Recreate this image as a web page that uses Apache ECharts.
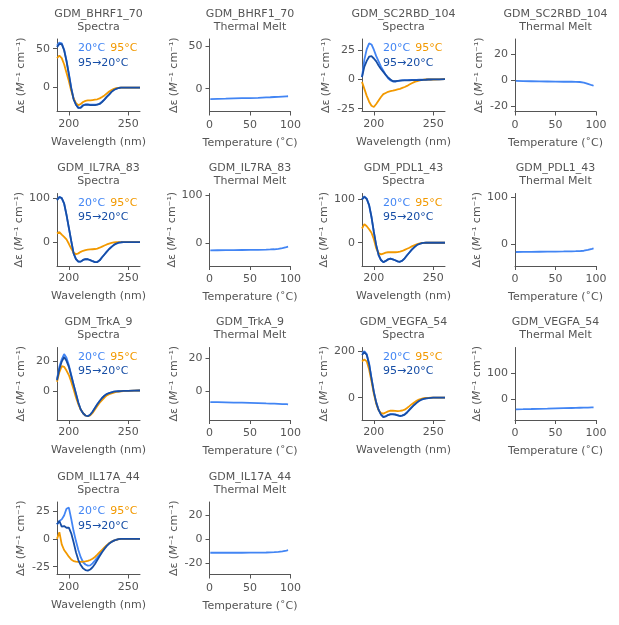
<!DOCTYPE html>
<html><head><meta charset="utf-8">
<script src="https://cdn.jsdelivr.net/npm/echarts@6/dist/echarts.min.js"></script>
<style>html,body{margin:0;padding:0;background:#fff}#c{width:619px;height:625px}</style>
</head><body><div id="c"></div>
<script>
// ---------- data ----------
const wavelengths = [190,192,194,196,198,200,202,204,206,208,210,212,214,216,218,220,222,224,226,228,230,232,234,236,238,240,242,244,246,248,250,255,260];
const temperatures = [1,10,20,30,40,50,60,70,75,80,85,90,95,97];
const proteinNames = ['GDM_BHRF1_70','GDM_SC2RBD_104','GDM_IL7RA_83','GDM_PDL1_43','GDM_TrkA_9','GDM_VEGFA_54','GDM_IL17A_44'];

const BHRF1_20C   = [54,58,57,49,35,18,0,-14,-22,-26,-25.5,-22.5,-21.5,-21.5,-22,-22,-22,-21.5,-20.5,-18,-15,-11.5,-8.5,-5,-2.8,-1.3,-0.4,0,0,0,0,0,0];
const BHRF1_95C   = [38,41,38,30,19,8.5,-4,-14,-20,-22.5,-21,-18.5,-17,-16.5,-16.5,-16,-15.5,-15,-13.8,-12,-10,-7.5,-5,-3,-1.5,-0.6,-0.2,0,0,0,0,0,0];
const BHRF1_95to20C = [52,56,56,48,34,17,-1,-15,-22,-26,-26,-23,-22,-22,-22.5,-22.5,-22.5,-22,-21,-18.5,-15.5,-12,-9,-5.5,-3,-1.5,-0.5,0,0,0,0,0,0];
const BHRF1_melt  = [-12.2,-12,-11.8,-11.5,-11.2,-11,-10.7,-10.3,-10.1,-9.8,-9.6,-9.3,-9.0,-8.9];

const SC2RBD_20C  = [2,17,26,31,30,25.5,20,15.5,11,7.5,4,1,-0.8,-1.5,-1.7,-1.4,-1,-0.8,-0.6,-0.5,-0.4,-0.4,-0.3,-0.3,-0.2,-0.2,-0.1,0,0,0,0.1,0.2,0.3];
const SC2RBD_95C  = [-2,-8,-14,-19,-22.5,-23.5,-21,-18,-15,-12.5,-11.5,-10.5,-10,-9.6,-9,-8.5,-8,-7.2,-6.4,-5.5,-4.3,-3.2,-2.3,-1.5,-0.9,-0.5,-0.2,0,0,0,0,0.2,0.3];
const SC2RBD_95to20C = [2,11,16,19.5,20,18,15.5,12,9,6.5,4,1.7,0,-1.5,-1.5,-1.2,-1,-0.8,-0.8,-0.7,-0.7,-0.6,-0.6,-0.5,-0.5,-0.4,-0.3,-0.2,0,0,0.1,0.2,0.3];
const SC2RBD_melt = [-0.5,-0.7,-0.8,-0.9,-1,-1.1,-1.2,-1.2,-1.3,-1.4,-1.8,-2.8,-3.9,-4.3];

const IL7RA_20C   = [97,104,101,88,62,32,2,-26,-39,-45,-45,-41,-39,-39.5,-41.5,-44,-46,-46,-42,-35,-28.5,-22,-16,-11,-6.5,-3.5,-1.5,-0.5,0,0,0,0,0];
const IL7RA_95C   = [20,23,17,12,6,-4,-15,-24,-28,-26,-22.5,-20,-18.5,-17.5,-17,-16.5,-16,-15,-13,-10.5,-8,-5.5,-3.5,-2,-0.8,-0.2,0,0,0,0,0,0,0];
const IL7RA_95to20C = [96,103,101,89,63,33,3,-26,-39,-45,-45,-41,-39,-39.5,-41.5,-44,-46,-46,-42,-35,-28.5,-22,-16,-11,-6.5,-3.5,-1.5,-0.5,0,0,0,0,0];
const IL7RA_melt  = [-14.5,-14.3,-14.1,-14,-13.8,-13.6,-13.4,-13,-12.7,-12.3,-11.5,-10,-8,-7];

const PDL1_20C    = [101,107,102,87,59,24,-7,-29,-40,-45,-42,-38.5,-37,-38.5,-40.5,-43,-44,-41.5,-36,-29,-22.5,-16,-10.5,-6,-3,-1.2,-0.5,0,0,0,0,0,0];
const PDL1_95C    = [33,43,38,31,23,8,-13,-24,-27,-25,-23,-22,-22,-22,-22,-21.5,-20.5,-19,-16.5,-14,-11.5,-8.5,-6,-3.8,-2,-0.8,-0.2,0,0,0,0,0,0];
const PDL1_95to20C = [100,106,101,87,60,25,-6,-28,-40,-45,-42,-38.5,-37,-38.5,-40.5,-43,-44,-41.5,-36,-29,-22.5,-16,-10.5,-6,-3,-1.2,-0.5,0,0,0,0,0,0];
const PDL1_melt   = [-16,-15.9,-15.7,-15.5,-15.3,-15.1,-14.9,-14.6,-14.4,-14.1,-13.4,-11.8,-9.5,-8.5];

const TrkA_20C    = [8,16,21,24.5,22,17,10.5,4,-2,-8,-12.5,-15,-16.5,-17,-16,-14,-11.5,-9,-6.8,-4.8,-3.3,-2.2,-1.5,-1,-0.6,-0.4,-0.3,-0.2,-0.1,0,0,0.1,0.2];
const TrkA_95C    = [6,12.5,16.5,16,13.5,10.5,6,1,-4.5,-9,-12.5,-15,-16.5,-17,-16.5,-14.8,-12.5,-10.2,-8,-6.2,-4.5,-3.1,-2.3,-1.7,-1.2,-0.8,-0.5,-0.3,-0.2,0,0,0.1,0.2];
const TrkA_95to20C = [7,14.5,19.5,22.5,20,16,10,4,-2,-8,-12.5,-15,-16.5,-17,-16,-14,-11.5,-9,-6.8,-4.8,-3.3,-2.2,-1.5,-1,-0.6,-0.4,-0.3,-0.2,-0.1,0,0,0.1,0.2];
const TrkA_melt   = [-6.6,-6.7,-6.8,-6.9,-7,-7.15,-7.3,-7.45,-7.5,-7.6,-7.7,-7.8,-7.9,-8];

const VEGFA_20C   = [190,198,186,146,84,26,-20,-51,-71,-82,-79,-73,-70,-70,-71,-74,-77,-75.5,-71,-62,-51,-40,-30.5,-21.5,-13.5,-8,-4.7,-2.6,-1.3,-0.5,0,0,0];
const VEGFA_95C   = [155,163,155,120,70,17,-26,-53,-65,-68,-63,-58,-55.5,-55,-56,-57,-56.5,-54.5,-51,-44,-36,-27.5,-20,-13.5,-8,-4.5,-2.2,-1,-0.4,0,0,0,0];
const VEGFA_95to20C = [182,194,182,142,81,24,-21,-52,-72,-83,-80,-74,-71,-71,-72,-75,-78,-76.5,-72,-63,-52,-41,-31,-22,-14,-8.5,-5,-2.8,-1.4,-0.5,0,0,0];
const VEGFA_melt  = [-38.5,-38,-37.3,-36.5,-35.8,-35,-34.2,-33.4,-33,-32.5,-32,-31.6,-31.1,-31];

const IL17A_20C   = [13,16,17.5,21,27,28,18,7,-2,-10,-16.5,-21,-23,-24,-23.8,-22,-19.5,-16.8,-13.8,-10.8,-8.2,-6,-4,-2.5,-1.5,-0.7,-0.3,0,0,0,0,0,0];
const IL17A_95C   = [0,6,-5,-10,-13,-16,-18.5,-20,-20.5,-20.7,-20.7,-20.5,-20.3,-19.8,-19,-17.8,-16.3,-14.2,-12,-9.8,-7.6,-5.6,-4,-2.6,-1.5,-0.8,-0.3,0,0,0,0,0,0];
const IL17A_95to20C = [13,16,11,11.5,10,10,5,-3,-12,-19,-23.5,-26.5,-28,-28.5,-27.5,-25.5,-22.5,-19,-15.5,-12,-9,-6.3,-4.2,-2.8,-1.6,-0.8,-0.3,0,0,0,0,0,0];
const IL17A_melt  = [-11.2,-11.2,-11.2,-11.2,-11.2,-11.1,-11.1,-11,-10.9,-10.7,-10.4,-10,-9.4,-9.1];

const wavelengthTicks = [200, 250];
const temperatureTicks = [0, 50, 100];

// ---------- layout / style ----------
const TXT = '#555555';
const FONT = 'DejaVu Sans';
const C20 = '#4285F4', C95 = '#F29900', C9520 = '#174EA6';
const rowTops = [39, 193.5, 347.5, 502];
const colLefts = [57, 209.5, 362, 515];
const H = 72.5, W_SPEC = 83, W_MELT = 81;
const LW = 1.8;

const panels = [
  {s20:BHRF1_20C, s95:BHRF1_95C, s9520:BHRF1_95to20C, melt:BHRF1_melt, sy:[-30.7,62.5,[0,50]], my:[-26.8,58.3,[0,50]]},
  {s20:SC2RBD_20C, s95:SC2RBD_95C, s9520:SC2RBD_95to20C, melt:SC2RBD_melt, sy:[-27.4,34.7,[-25,0,25]], my:[-24.3,32,[-20,0,20]]},
  {s20:IL7RA_20C, s95:IL7RA_95C, s9520:IL7RA_95to20C, melt:IL7RA_melt, sy:[-55,111.5,[0,100]], my:[-47,103.4,[0,100]]},
  {s20:PDL1_20C, s95:PDL1_95C, s9520:PDL1_95to20C, melt:PDL1_melt, sy:[-53.8,113.8,[0,100]], my:[-45.5,107,[0,100]]},
  {s20:TrkA_20C, s95:TrkA_95C, s9520:TrkA_95to20C, melt:TrkA_melt, sy:[-19.5,28.9,[0,20]], my:[-17.4,26.2,[0,20]]},
  {s20:VEGFA_20C, s95:VEGFA_95C, s9520:VEGFA_95to20C, melt:VEGFA_melt, sy:[-95,214,[0,200]], my:[-79.5,199,[0,100]]},
  {s20:IL17A_20C, s95:IL17A_95C, s9520:IL17A_95to20C, melt:IL17A_melt, sy:[-32,33.1,[-25,0,25]], my:[-29.3,31,[-20,0,20]]}
];

const grid = [], xAxis = [], yAxis = [], series = [], graphic = [];
const lineAx = {show:true, onZero:false, lineStyle:{color:TXT, width:1}};
const tickSt = {color:TXT, width:1};
const labSt = {color:TXT, fontSize:11, fontFamily:FONT};
const yName = '{n|Δε (}{i|M}{n|⁻¹ cm⁻¹)}';
const yNameStyle = {color:TXT, fontSize:11, fontFamily:FONT,
  rich:{n:{color:TXT, fontSize:11, fontFamily:FONT}, i:{color:TXT, fontSize:11, fontFamily:FONT, fontStyle:'italic'}}};

function pairs(xs, ys){ return xs.map((x,i)=>[x, ys[i]]); }

panels.forEach((p, i) => {
  const row = Math.floor(i/2);
  const sc = (i%2)*2, mc = sc+1;
  const top = rowTops[row];
  // spectra grid
  const gs = grid.length;
  grid.push({left:colLefts[sc], top:top, width:W_SPEC, height:H});
  xAxis.push({gridIndex:gs, type:'value', min:190, max:260,
    axisLine:lineAx, axisTick:{show:true, customValues:wavelengthTicks, length:4, lineStyle:tickSt},
    axisLabel:Object.assign({customValues:wavelengthTicks, margin:7}, labSt), splitLine:{show:false},
    name:'Wavelength (nm)', nameLocation:'middle', nameGap:25, nameTextStyle:labSt});
  yAxis.push({gridIndex:gs, type:'value', min:p.sy[0], max:p.sy[1],
    axisLine:lineAx, axisTick:{show:true, customValues:p.sy[2], length:4, lineStyle:tickSt},
    axisLabel:Object.assign({customValues:p.sy[2], margin:7}, labSt), splitLine:{show:false},
    name:yName, nameLocation:'middle', nameRotate:90, nameGap:30, nameTextStyle:yNameStyle});
  [[p.s20,C20,'20°C'],[p.s95,C95,'95°C'],[p.s9520,C9520,'95→20°C']].forEach(([d,c,n]) => {
    series.push({type:'line', name:n, xAxisIndex:gs, yAxisIndex:gs, data:pairs(wavelengths,d),
      showSymbol:false, symbol:'none', lineStyle:{color:c, width:LW}, itemStyle:{color:c}, silent:true});
  });
  // melt grid
  const gm = grid.length;
  grid.push({left:colLefts[mc], top:top, width:W_MELT, height:H});
  xAxis.push({gridIndex:gm, type:'value', min:0, max:100,
    axisLine:lineAx, axisTick:{show:true, customValues:temperatureTicks, length:4, lineStyle:tickSt},
    axisLabel:Object.assign({customValues:temperatureTicks, margin:8}, labSt), splitLine:{show:false},
    name:'Temperature (˚C)', nameLocation:'middle', nameGap:26, nameTextStyle:labSt});
  yAxis.push({gridIndex:gm, type:'value', min:p.my[0], max:p.my[1],
    axisLine:lineAx, axisTick:{show:true, customValues:p.my[2], length:4, lineStyle:tickSt},
    axisLabel:Object.assign({customValues:p.my[2], margin:7}, labSt), splitLine:{show:false},
    name:yName, nameLocation:'middle', nameRotate:90, nameGap:30, nameTextStyle:yNameStyle});
  series.push({type:'line', xAxisIndex:gm, yAxisIndex:gm, data:pairs(temperatures,p.melt),
    showSymbol:false, symbol:'none', lineStyle:{color:C20, width:LW}, silent:true});

  // titles
  const font = '11px "DejaVu Sans"';
  graphic.push({type:'text', x:colLefts[sc]+W_SPEC/2, y:top-31.5, silent:true,
    style:{text:proteinNames[i]+'\nSpectra', font:font, fill:TXT, align:'center', verticalAlign:'top', lineHeight:13}});
  graphic.push({type:'text', x:colLefts[mc]+W_MELT/2, y:top-31.5, silent:true,
    style:{text:proteinNames[i]+'\nThermal Melt', font:font, fill:TXT, align:'center', verticalAlign:'top', lineHeight:13}});
  // legend text
  graphic.push({type:'text', x:colLefts[sc]+21, y:top+2, silent:true, z:100,
    style:{text:'{a|20°C}{s| }{b|95°C}\n{c|95→20°C}', font:font, align:'left', verticalAlign:'top', lineHeight:14.5,
      rich:{a:{fill:C20, font:font, lineHeight:14.5}, s:{width:5, font:font, lineHeight:14.5}, b:{fill:C95, font:font, lineHeight:14.5}, c:{fill:C9520, font:font, lineHeight:14.5}}}});
});

const chart = echarts.init(document.getElementById('c'), null, {renderer:'canvas'});
chart.setOption({animation:false, backgroundColor:'#fff', grid, xAxis, yAxis, series, graphic});
</script>
</body></html>
